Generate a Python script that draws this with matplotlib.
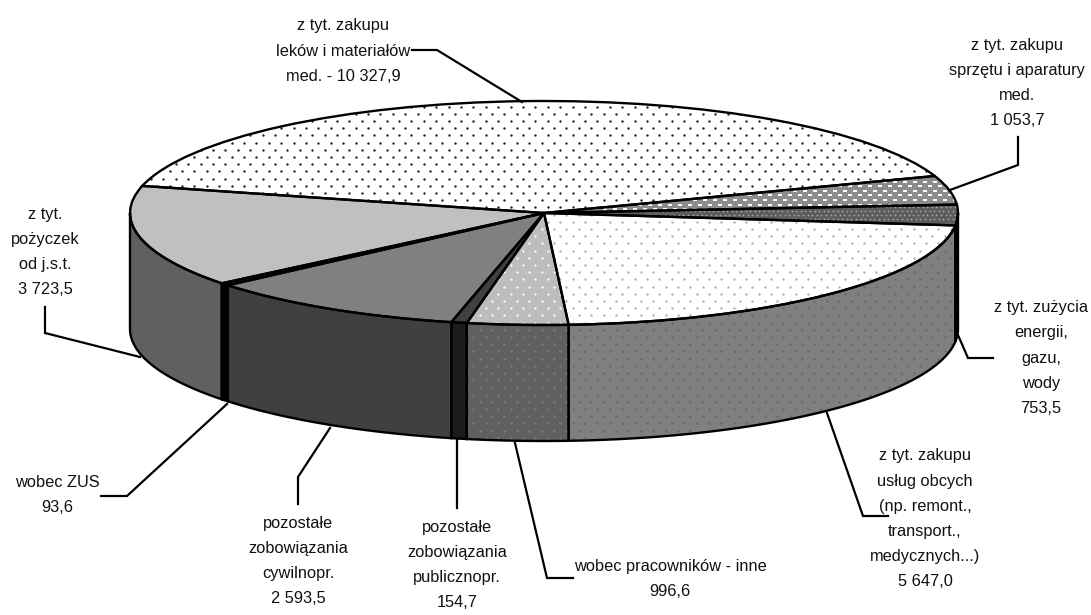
import numpy as np
import matplotlib
matplotlib.use("Agg")
from matplotlib import pyplot as plt
from matplotlib.patches import Wedge, Polygon

plt.rcParams['font.family'] = ['Liberation Sans', 'DejaVu Sans']

labels = ["z tyt. zakupu\nleków i materiałów\nmed. - 10 327,9",
          "z tyt. zakupu\nsprzętu i aparatury\nmed.\n1 053,7",
          "z tyt. zużycia\nenergii,\ngazu,\nwody\n753,5",
          "z tyt. zakupu\nusług obcych\n(np. remont.,\ntransport.,\nmedycznych...)\n5 647,0",
          "wobec pracowników - inne\n996,6",
          "pozostałe\nzobowiązania\npublicznopr.\n154,7",
          "pozostałe\nzobowiązania\ncywilnopr.\n2 593,5",
          "wobec ZUS\n93,6",
          "z tyt.\npożyczek\nod j.s.t.\n3 723,5"]
values = [10327.9, 1053.7, 753.5, 5647.0, 996.6, 154.7, 2593.5, 93.6, 3723.5]

top_colors = ['#ffffff', '#8c8c8c', '#5c5c5c', '#ffffff', '#bdbdbd', '#404040', '#808080', '#111111', '#c0c0c0']
side_colors = ['#ffffff', '#8c8c8c', '#000000', '#808080', '#606060', '#1c1c1c', '#404040', '#000000', '#606060']

# dot patterns: colour, dx, dy, size, marker, (None = plain)
top_dots = [('#222222', 12.4, 7.2, 3.0, 'o'), ('#ffffff', 10, 4.6, 1.8, '_'), ('#a8a8a8', 4.6, 4.2, 1.6, 'o'),
            ('#b0b0b0', 12.4, 7.2, 3.0, 'o'), ('#ffffff', 12.4, 7.2, 2.6, 'o'), None, None, None, None]
side_dots = [None, None, None, ('#666666', 12.4, 7.2, 2.6, 'o'), ('#808080', 12.4, 7.2, 2.4, 'o'), None, None, None, None]

# label centres in pixels
label_pos = [(343, 51), (1017, 83), (1041, 358), (925, 519), (670, 579), (457, 565), (298, 561), (57, 495), (45, 252)]
# leader lines in pixels
leaders = [[(412, 50), (437, 50), (522, 102)],
           [(1018, 137), (1018, 165), (950, 190)],
           [(958, 335), (968, 358), (993, 358)],
           [(827, 413), (863, 516), (888, 516)],
           [(515, 443), (547, 578), (573, 578)],
           [(457, 440), (457, 508)],
           [(330, 428), (298, 477), (298, 504)],
           [(227, 404), (127, 496), (101, 496)],
           [(45, 307), (45, 333), (140, 357)]]

W, H = 1091, 615
CX, CY, RX, RY = 544, 213, 414, 112
DEPTH = 116 / RY   # wall height, in units of RY
START = 166
LW = 1.7


def xs(px):
    return (np.asarray(px, dtype=float) - CX) / RX


def ys(py):
    return (CY - np.asarray(py, dtype=float)) / RY


def add_dots(ax, clip, style):
    if style is None:
        return
    color, dx, dy, size, marker = style
    rows = np.arange(85, 450, dy)
    px, py = [], []
    for i, y in enumerate(rows):
        col = np.arange(120 + (i % 2) * dx / 2, 970, dx)
        px.extend(col)
        py.extend([y] * len(col))
    if marker == '_':
        pts = ax.scatter(xs(px), ys(py), s=size * 5, c=color, marker='_', linewidths=1.2, zorder=2)
    else:
        pts = ax.scatter(xs(px), ys(py), s=size, c=color, marker='o', linewidths=0, zorder=2)
    pts.set_clip_path(clip)


fig = plt.figure(figsize=(W / 100, H / 100), dpi=100)
ax = fig.add_axes([0, 0, 1, 1])

wedges, _ = ax.pie(values, startangle=START, counterclock=False, radius=1, colors=top_colors,
                   wedgeprops=dict(linewidth=0, zorder=1))
ax.set_aspect('auto')
ax.set_xlim(xs(0), xs(W))
ax.set_ylim(ys(H), ys(0))
ax.axis('off')

edges = START - np.concatenate([[0], np.cumsum(values)]) / np.sum(values) * 360

for i in range(len(values)):
    wedge = wedges[i]
    add_dots(ax, wedge, top_dots[i])
    ax.add_patch(Wedge((0, 0), 1, wedge.theta1, wedge.theta2, fill=False, edgecolor='black', linewidth=LW, zorder=3))

    # outer wall of the slice, only the front half of the rim shows
    hi, lo = min(edges[i], 0), max(edges[i + 1], -180)
    if hi > lo:
        t = np.radians(np.linspace(hi, lo, 60))
        rim = np.column_stack([np.cos(t), np.sin(t)])
        low = rim[::-1] - [0, DEPTH]
        wall = Polygon(np.vstack([rim, low]), closed=True, facecolor=side_colors[i], edgecolor='none', zorder=1)
        ax.add_patch(wall)
        add_dots(ax, wall, side_dots[i])
        ax.add_patch(Polygon(np.vstack([rim, low]), closed=True, fill=False, edgecolor='black', linewidth=LW, zorder=3))

for line in leaders:
    pts = np.array(line)
    ax.plot(xs(pts[:, 0]), ys(pts[:, 1]), color='black', linewidth=1.6, solid_joinstyle='miter', zorder=4, clip_on=False)

for text, (px, py) in zip(labels, label_pos):
    ax.text(xs(px), ys(py), text, ha='center', va='center', fontsize=11.8, color='#111111',
            linespacing=1.85, multialignment='center', zorder=5)

fig.savefig("out.png", dpi=100, facecolor='white')
